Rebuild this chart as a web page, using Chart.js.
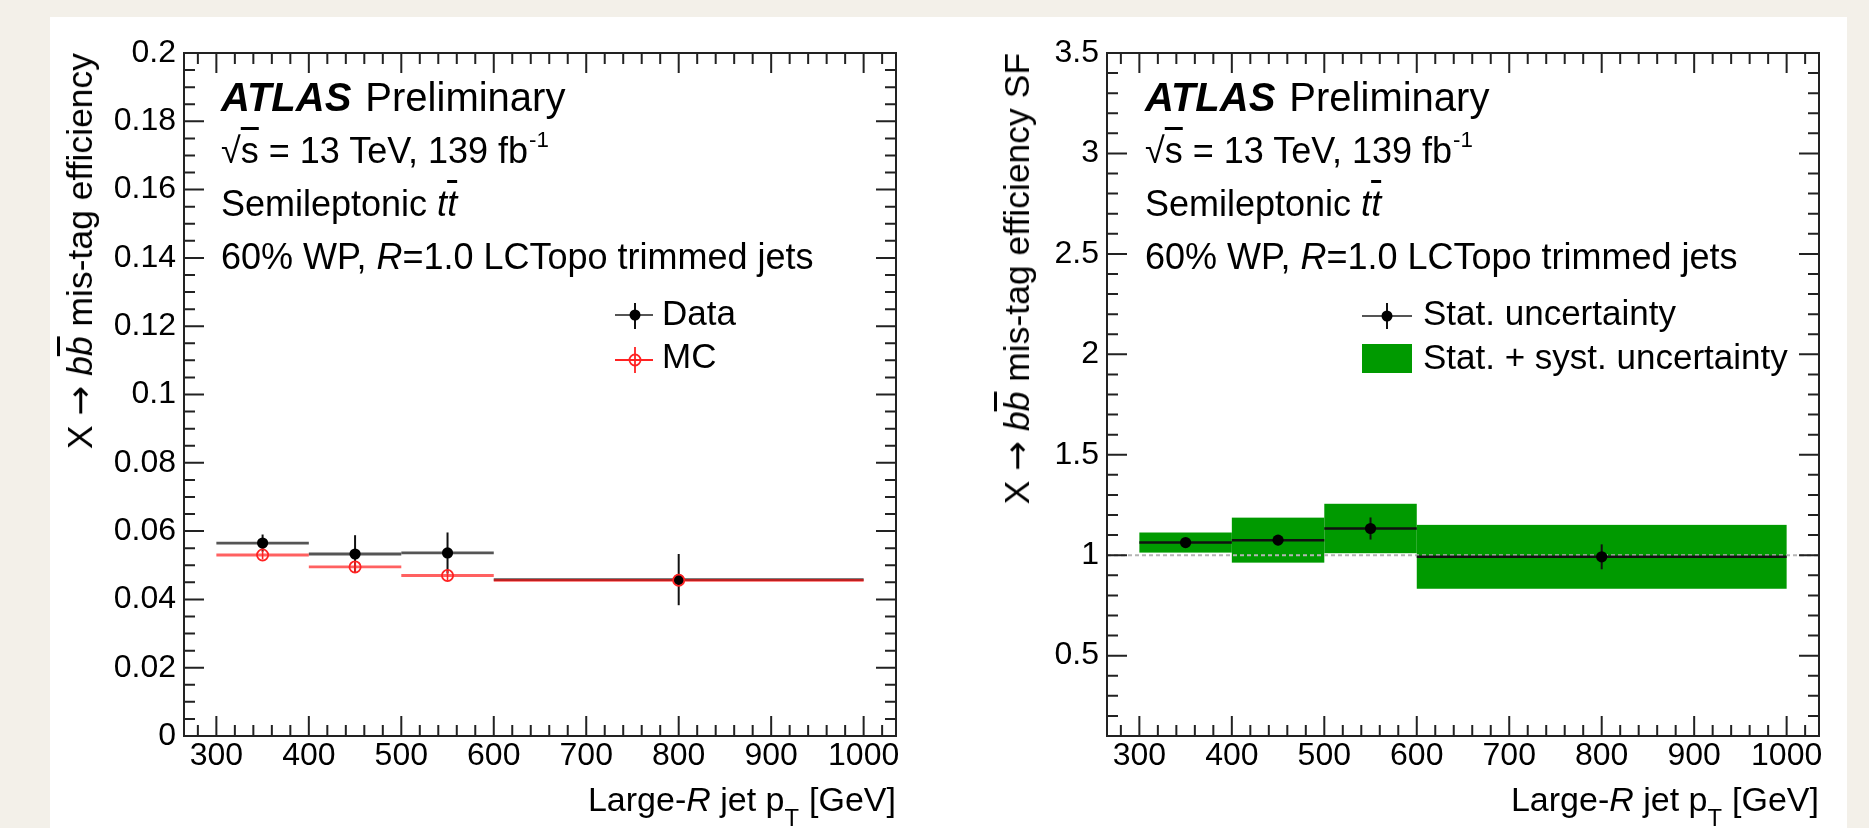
<!DOCTYPE html>
<html>
<head>
<meta charset="utf-8">
<script src="https://cdn.jsdelivr.net/npm/chart.js@4.4.1/dist/chart.umd.min.js"></script>
<style>
  html, body { margin: 0; padding: 0; width: 1869px; height: 828px; overflow: hidden; background: #f3f0e9; }
  body { font-family: "Liberation Sans", Arial, sans-serif; color: #000; }
  #panel { position: absolute; left: 50px; top: 17px; width: 1797px; height: 811px; background: #fff; }
  canvas { position: absolute; top: 0; }
  .t { position: absolute; white-space: nowrap; line-height: 1; }
  .atl { font-size: 40px; }
  .atl .pre { margin-left: 14px; }
  .lbl { font-size: 36px; }
  .leg { font-size: 35px; }
  .xtitle { font-size: 34px; }
  .ytitle { position: absolute; top: 53px; font-size: 35.5px; line-height: 1; white-space: nowrap;
            transform-origin: 0 0; transform: rotate(-90deg) translateX(-100%); }
  .arr { font-family: "DejaVu Sans", sans-serif; }
  .ob { text-decoration: overline; }
  .sup { position: relative; top: -0.7em; font-size: 0.62em; margin-left: 1px; }
  .sub { position: relative; top: 0.62em; font-size: 0.7em; margin-right: 10px; }
</style>
</head>
<body>
<div id="panel"></div>
<canvas id="cEff" width="940" height="828" style="left:0"></canvas>
<canvas id="cSF" width="929" height="828" style="left:940px"></canvas>

<!-- left plot texts -->
<div class="t atl" style="left:221px; top:77px"><b><i>ATLAS</i></b><span class="pre">Preliminary</span></div>
<div class="t lbl" style="left:221px; top:133px">√<span class="ob">s</span> = 13 TeV, 139 fb<span class="sup">-1</span></div>
<div class="t lbl" style="left:221px; top:186px">Semileptonic <i>t<span class="ob">t</span></i></div>
<div class="t lbl" style="left:221px; top:239px">60% WP, <i>R</i>=1.0 LCTopo trimmed jets</div>
<div class="t leg" style="left:662px; top:295px">Data</div>
<div class="t leg" style="left:662px; top:338px">MC</div>
<div class="ytitle" style="left:62px">X <span class="arr">→</span> <i>b</i><i class="ob">b</i> mis-tag efficiency</div>
<div class="t xtitle" style="right:973px; top:782px">Large-<i>R</i> jet p<span class="sub">T</span>[GeV]</div>

<!-- right plot texts -->
<div class="t atl" style="left:1145px; top:77px"><b><i>ATLAS</i></b><span class="pre">Preliminary</span></div>
<div class="t lbl" style="left:1145px; top:133px">√<span class="ob">s</span> = 13 TeV, 139 fb<span class="sup">-1</span></div>
<div class="t lbl" style="left:1145px; top:186px">Semileptonic <i>t<span class="ob">t</span></i></div>
<div class="t lbl" style="left:1145px; top:239px">60% WP, <i>R</i>=1.0 LCTopo trimmed jets</div>
<div class="t leg" style="left:1423px; top:295px">Stat. uncertainty</div>
<div class="t leg" style="left:1423px; top:339px">Stat. + syst. uncertainty</div>
<div class="ytitle" style="left:999px">X <span class="arr">→</span> <i>b</i><i class="ob">b</i> mis-tag efficiency SF</div>
<div class="t xtitle" style="right:50px; top:782px">Large-<i>R</i> jet p<span class="sub">T</span>[GeV]</div>

<script>
// pT bins [GeV]
const binLow = [300, 400, 500, 600];
const binHigh = [400, 500, 600, 1000];
const binCentre = [350, 450, 550, 800];
const xTicks = [300, 400, 500, 600, 700, 800, 900, 1000];

// mis-tag efficiency, data and MC
const effData = [0.0565, 0.0533, 0.0536, 0.0458];
const effDataErr = [0.0025, 0.0055, 0.0060, 0.0075];
const effMC = [0.0530, 0.0495, 0.0470, 0.0456];
const effMCErr = [0.0013, 0.0015, 0.0015, 0.0010];
const yTicksEff = [0, 0.02, 0.04, 0.06, 0.08, 0.1, 0.12, 0.14, 0.16, 0.18, 0.2];

// scale factors
const sfVal = [1.063, 1.075, 1.133, 0.992];
const sfStat = [0.020, 0.025, 0.055, 0.062];
const sfTotal = [0.050, 0.112, 0.123, 0.159];
const sfUnity = 1;
const yTicksSF = [0.5, 1, 1.5, 2, 2.5, 3, 3.5];

const FONT = '"Liberation Sans", Arial, sans-serif';
const GREEN = '#009a00';

function hline(ctx, x0, x1, y, color, w) {
    ctx.strokeStyle = color; ctx.lineWidth = w;
    ctx.beginPath(); ctx.moveTo(x0, y); ctx.lineTo(x1, y); ctx.stroke();
}
function vline(ctx, x, y0, y1, color, w) {
    ctx.strokeStyle = color; ctx.lineWidth = w;
    ctx.beginPath(); ctx.moveTo(x, y0); ctx.lineTo(x, y1); ctx.stroke();
}

// ROOT style frame with ticks pointing inwards on all four sides
function innerTicks(xStep, yStep) {
    return {
        id: 'innerTicks',
        afterDraw(chart) {
            const { ctx, chartArea: a, scales: { x, y } } = chart;
            const isMajor = (s, v) => s.ticks.some(t => Math.abs(t.value - v) < 1e-9);
            ctx.save();
            ctx.strokeStyle = '#222';
            ctx.lineWidth = 2;
            ctx.beginPath();
            for (let k = Math.ceil(x.min / xStep - 1e-9); k * xStep <= x.max + 1e-9; k++) {
                const v = k * xStep, px = x.getPixelForValue(v), len = isMajor(x, v) ? 20 : 11;
                ctx.moveTo(px, a.bottom); ctx.lineTo(px, a.bottom - len);
                ctx.moveTo(px, a.top); ctx.lineTo(px, a.top + len);
            }
            for (let k = Math.ceil(y.min / yStep - 1e-9); k * yStep <= y.max + 1e-9; k++) {
                const v = k * yStep, py = y.getPixelForValue(v), len = isMajor(y, v) ? 20 : 11;
                ctx.moveTo(a.left, py); ctx.lineTo(a.left + len, py);
                ctx.moveTo(a.right, py); ctx.lineTo(a.right - len, py);
            }
            ctx.stroke();
            ctx.strokeRect(a.left, a.top, a.right - a.left, a.bottom - a.top);
            ctx.restore();
        }
    };
}

function options(yMin, yMax, yTicks, yWidth, padRight) {
    return {
        responsive: false,
        animation: false,
        events: [],
        layout: { padding: { top: 53, right: padRight, left: 0, bottom: 0 } },
        plugins: { legend: { display: false }, tooltip: { enabled: false } },
        scales: {
            x: {
                type: 'linear', min: 265, max: 1035,
                afterBuildTicks: s => { s.ticks = xTicks.map(v => ({ value: v })); },
                afterFit: s => { s.height = 92; },
                grid: { display: false, drawTicks: false },
                border: { display: false },
                ticks: { callback: v => String(v), font: { family: FONT, size: 32 }, color: '#000',
                         padding: 1, maxRotation: 0, autoSkip: false }
            },
            y: {
                type: 'linear', min: yMin, max: yMax,
                afterBuildTicks: s => { s.ticks = yTicks.map(v => ({ value: v })); },
                afterFit: s => { s.width = yWidth; },
                grid: { display: false, drawTicks: false },
                border: { display: false },
                ticks: { callback: v => String(+v.toFixed(3)), font: { family: FONT, size: 32 }, color: '#000',
                         padding: 8, autoSkip: false }
            }
        }
    };
}

// ---------- left: efficiency ----------
const effMarks = {
    id: 'effMarks',
    beforeDatasetsDraw(chart) {
        const { ctx, scales: { x, y } } = chart;
        ctx.save();
        binLow.forEach((lo, i) => {
            hline(ctx, x.getPixelForValue(lo), x.getPixelForValue(binHigh[i]), y.getPixelForValue(effData[i]), '#555', 2.8);
            vline(ctx, x.getPixelForValue(binCentre[i]), y.getPixelForValue(effData[i] - effDataErr[i]),
                  y.getPixelForValue(effData[i] + effDataErr[i]), '#111', 2);
        });
        binLow.forEach((lo, i) => {
            hline(ctx, x.getPixelForValue(lo), x.getPixelForValue(binHigh[i]), y.getPixelForValue(effMC[i]), 'rgba(255,0,0,0.62)', 2.8);
            vline(ctx, x.getPixelForValue(binCentre[i]), y.getPixelForValue(effMC[i] - effMCErr[i]),
                  y.getPixelForValue(effMC[i] + effMCErr[i]), '#f22', 1.6);
        });
        ctx.restore();
    },
    afterDraw(chart) {
        // legend symbols
        const ctx = chart.ctx;
        ctx.save();
        hline(ctx, 615, 653, 315, '#555', 2);
        vline(ctx, 635, 303, 329, '#111', 2);
        ctx.fillStyle = '#000';
        ctx.beginPath(); ctx.arc(635, 315, 5.5, 0, Math.PI * 2); ctx.fill();
        hline(ctx, 615, 653, 360, '#f22', 1.8);
        vline(ctx, 635, 347, 373, '#f22', 1.8);
        ctx.strokeStyle = '#f22'; ctx.lineWidth = 1.8;
        ctx.beginPath(); ctx.arc(635, 360, 5.5, 0, Math.PI * 2); ctx.stroke();
        ctx.restore();
    }
};

new Chart(document.getElementById('cEff'), {
    type: 'scatter',
    data: {
        datasets: [
            {
                label: 'MC', order: 0,
                data: binCentre.map((x, i) => ({ x, y: effMC[i] })),
                pointRadius: 5.6, pointBackgroundColor: 'rgba(0,0,0,0)',
                pointBorderColor: '#f22', pointBorderWidth: 1.8
            },
            {
                label: 'Data', order: 1,
                data: binCentre.map((x, i) => ({ x, y: effData[i] })),
                pointRadius: 5.6, pointBackgroundColor: '#000', pointBorderWidth: 0
            }
        ]
    },
    options: options(0, 0.2, yTicksEff, 184, 44),
    plugins: [effMarks, innerTicks(20, 0.005)]
});

// ---------- right: scale factor ----------
const sfMarks = {
    id: 'sfMarks',
    beforeDatasetsDraw(chart) {
        const { ctx, chartArea: a, scales: { x, y } } = chart;
        ctx.save();
        ctx.fillStyle = GREEN;
        binLow.forEach((lo, i) => {
            const x0 = x.getPixelForValue(lo), x1 = x.getPixelForValue(binHigh[i]);
            const y0 = y.getPixelForValue(sfVal[i] + sfTotal[i]), y1 = y.getPixelForValue(sfVal[i] - sfTotal[i]);
            ctx.fillRect(x0, y0, x1 - x0, y1 - y0);
        });
        ctx.setLineDash([4, 3]);
        hline(ctx, a.left, a.right, y.getPixelForValue(sfUnity), '#b5b5b5', 2);
        ctx.setLineDash([]);
        binLow.forEach((lo, i) => {
            hline(ctx, x.getPixelForValue(lo), x.getPixelForValue(binHigh[i]), y.getPixelForValue(sfVal[i]), '#111', 2.5);
            vline(ctx, x.getPixelForValue(binCentre[i]), y.getPixelForValue(sfVal[i] - sfStat[i]),
                  y.getPixelForValue(sfVal[i] + sfStat[i]), '#111', 2);
        });
        ctx.restore();
    },
    afterDraw(chart) {
        const ctx = chart.ctx;
        ctx.save();
        hline(ctx, 422, 472, 316, '#555', 2);
        vline(ctx, 447, 303, 329, '#111', 2);
        ctx.fillStyle = '#000';
        ctx.beginPath(); ctx.arc(447, 316, 5.5, 0, Math.PI * 2); ctx.fill();
        ctx.fillStyle = GREEN;
        ctx.fillRect(422, 344, 50, 29);
        ctx.restore();
    }
};

new Chart(document.getElementById('cSF'), {
    type: 'scatter',
    data: {
        datasets: [{
            label: 'Stat. uncertainty',
            data: binCentre.map((x, i) => ({ x, y: sfVal[i] })),
            pointRadius: 5.6, pointBackgroundColor: '#000', pointBorderWidth: 0
        }]
    },
    options: options(0.1, 3.5, yTicksSF, 167, 50),
    plugins: [sfMarks, innerTicks(20, 0.1)]
});
</script>
</body>
</html>
